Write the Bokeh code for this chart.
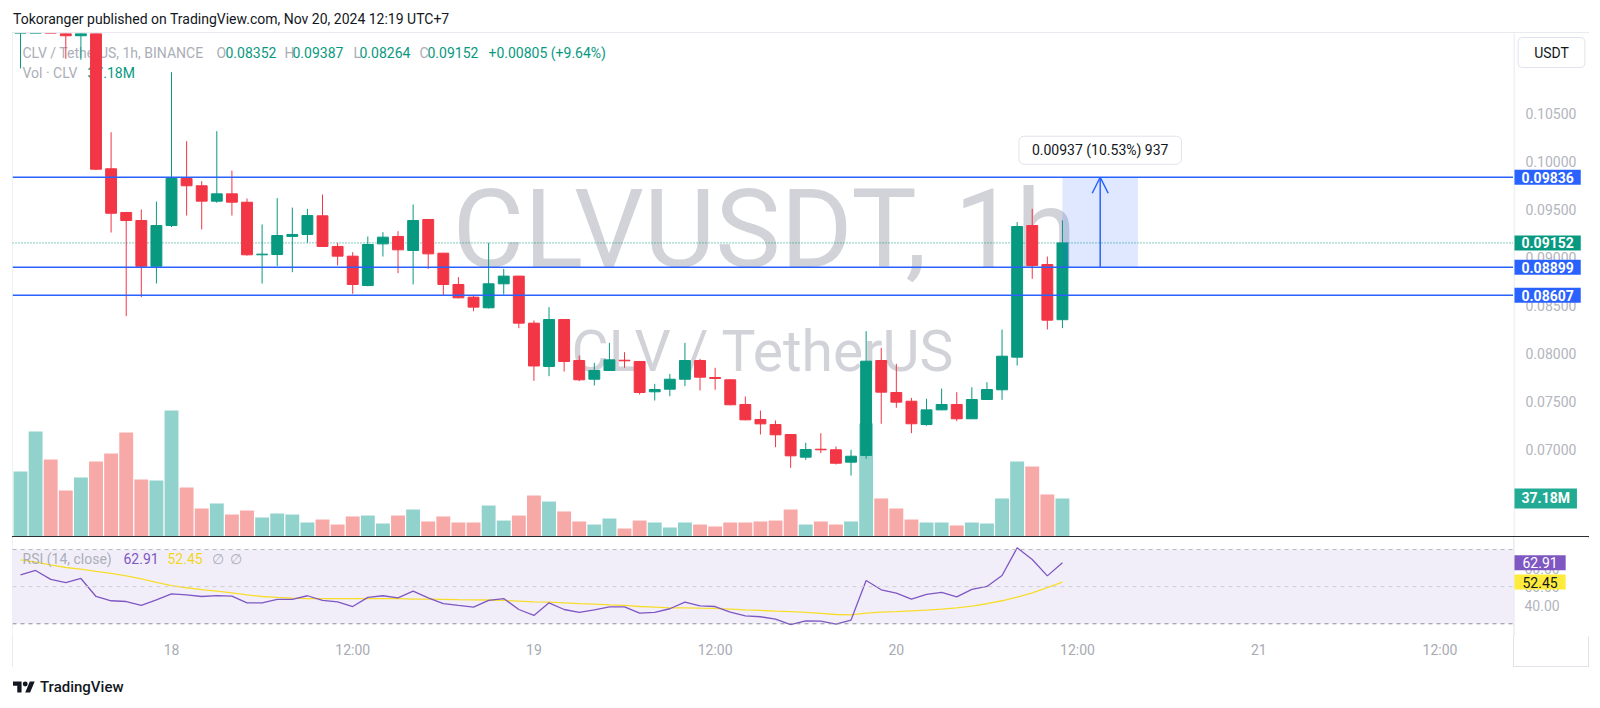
import numpy as np
from bokeh.plotting import figure
from bokeh.models import (ColumnDataSource, Range1d, FixedTicker,
                          Label, Span, BoxAnnotation, Arrow, OpenHead, Div, Spacer)
from bokeh.layouts import column, row
from bokeh.core.properties import value
from bokeh.embed import file_html
from bokeh.resources import INLINE

# ---------------- data (hour offsets from Nov 18 00:00, 1h candles) ----------------
hours = list(range(-10, 60))
opens = [0.1135, 0.1160, 0.1210, 0.1165, 0.1131, 0.1160, 0.09924, 0.09469, 0.09385, 0.08909,
         0.09333, 0.09823, 0.09747, 0.09587, 0.09663, 0.09576, 0.09028, 0.09031, 0.09220, 0.09240,
         0.09434, 0.09115, 0.09014, 0.08708, 0.09142, 0.09219, 0.09073, 0.09396, 0.09045, 0.08719,
         0.08587, 0.08476, 0.08726, 0.08806, 0.08316, 0.07865, 0.08354, 0.07927, 0.07732, 0.07823,
         0.07930, 0.07917, 0.07601, 0.07628, 0.07732, 0.07927, 0.07750, 0.07726, 0.07469, 0.07313,
         0.07260, 0.07156, 0.06920, 0.07003, 0.06997, 0.06868, 0.06938, 0.07927, 0.07594, 0.07503,
         0.07260, 0.07413, 0.07469, 0.07320, 0.07521, 0.07622, 0.07962, 0.09333, 0.08927, 0.08352]
highs = [0.1180, 0.1230, 0.1225, 0.1190, 0.1175, 0.1178, 0.10305, 0.09475, 0.09500, 0.09583,
         0.10930, 0.10212, 0.09795, 0.10316, 0.09906, 0.09615, 0.09344, 0.09618, 0.09520, 0.09507,
         0.09656, 0.09153, 0.09056, 0.09219, 0.09264, 0.09274, 0.09552, 0.09400, 0.09048, 0.08795,
         0.08604, 0.09153, 0.08882, 0.08810, 0.08344, 0.08483, 0.08358, 0.07979, 0.07903, 0.08111,
         0.08014, 0.07920, 0.07684, 0.07788, 0.08111, 0.07944, 0.07851, 0.07730, 0.07552, 0.07406,
         0.07302, 0.07160, 0.07070, 0.07170, 0.07031, 0.06997, 0.08233, 0.08059, 0.07892, 0.07538,
         0.07528, 0.07635, 0.07597, 0.07649, 0.07701, 0.08250, 0.09368, 0.09507, 0.09010, 0.09387]
lows = [0.1097, 0.1140, 0.1150, 0.1107, 0.1106, 0.0991, 0.09260, 0.08389, 0.08587, 0.08729,
        0.09316, 0.09437, 0.09292, 0.09570, 0.09437, 0.09020, 0.08729, 0.08910, 0.08847, 0.09153,
        0.09110, 0.08917, 0.08622, 0.08700, 0.09010, 0.08837, 0.08719, 0.08882, 0.08604, 0.08575,
        0.08441, 0.08470, 0.08615, 0.08264, 0.07715, 0.07764, 0.07812, 0.07712, 0.07667, 0.07820,
        0.07851, 0.07573, 0.07510, 0.07555, 0.07660, 0.07615, 0.07622, 0.07460, 0.07305, 0.07156,
        0.07024, 0.06809, 0.06893, 0.06962, 0.06844, 0.06729, 0.06903, 0.07268, 0.07434, 0.07170,
        0.07247, 0.07410, 0.07295, 0.07318, 0.07520, 0.07517, 0.07875, 0.08778, 0.08250, 0.08264]
closes = [0.1160, 0.1210, 0.1165, 0.1131, 0.1160, 0.0992, 0.09461, 0.09385, 0.08909, 0.09333,
          0.09823, 0.09747, 0.09587, 0.09663, 0.09576, 0.09028, 0.09035, 0.09229, 0.09240, 0.09437,
          0.09115, 0.09014, 0.08719, 0.09135, 0.09212, 0.09080, 0.09385, 0.09038, 0.08719, 0.08580,
          0.08483, 0.08726, 0.08806, 0.08316, 0.07870, 0.08354, 0.07917, 0.07726, 0.07823, 0.07934,
          0.07924, 0.07594, 0.07625, 0.07732, 0.07927, 0.07753, 0.07740, 0.07466, 0.07309, 0.07267,
          0.07153, 0.06934, 0.07000, 0.06997, 0.06857, 0.06930, 0.07920, 0.07597, 0.07493, 0.07268,
          0.07413, 0.07469, 0.07320, 0.07521, 0.07625, 0.07972, 0.09323, 0.08917, 0.08347, 0.09152]
volumes_m = [63.6, 102.7, 75.3, 45.0, 57.7, 73.4, 81.2, 101.7, 55.7, 54.8,
             123.2, 47.9, 27.4, 32.3, 21.5, 25.4, 18.6, 22.5, 21.5, 13.7,
             16.6, 11.7, 19.6, 20.5, 12.7, 20.5, 26.4, 14.7, 19.6, 13.7,
             13.7, 30.3, 15.6, 20.5, 40.1, 34.2, 24.5, 14.7, 11.7, 17.6,
             7.8, 15.6, 13.7, 8.8, 13.7, 11.7, 9.8, 13.7, 13.7, 14.7,
             15.6, 26.4, 11.7, 14.7, 11.7, 14.7, 110.5, 37.2, 27.4, 16.6,
             13.7, 13.7, 10.8, 13.7, 12.7, 37.2, 73.4, 68.5, 41.1, 37.18]
rsi = [56.4, 58.7, 53.9, 52.2, 54.4, 44.7, 42.4, 42.0, 39.9, 42.9,
       46.1, 45.6, 44.7, 45.2, 44.9, 41.3, 41.3, 43.1, 43.1, 45.1,
       42.6, 41.8, 39.3, 44.2, 45.1, 44.0, 47.6, 44.0, 40.9, 39.9,
       39.0, 42.6, 43.6, 37.7, 34.5, 41.3, 37.7, 36.1, 37.5, 39.1,
       39.1, 35.7, 36.1, 38.1, 41.7, 39.7, 39.3, 36.3, 34.3, 33.8,
       32.5, 29.6, 31.6, 31.4, 29.8, 32.0, 53.3, 48.3, 46.5, 43.3,
       45.8, 46.9, 44.5, 48.5, 50.1, 56.0, 70.9, 64.6, 55.8, 62.91]
rsi_ma = [64.4, 63.2, 61.7, 60.3, 59.4, 58.2, 57.1, 55.8, 54.2, 52.3,
          50.6, 49.4, 48.4, 47.6, 46.7, 45.6, 44.7, 44.2, 43.8, 43.6,
          43.6, 43.6, 43.5, 43.5, 43.5, 43.5, 43.3, 43.3, 43.2, 43.0,
          42.9, 42.8, 42.6, 42.2, 41.8, 41.7, 41.3, 40.9, 40.6, 40.2,
          39.9, 39.3, 39.0, 38.6, 38.6, 38.4, 38.3, 37.9, 37.5, 37.2,
          36.8, 36.5, 36.1, 35.6, 35.0, 34.8, 35.7, 36.3, 36.6, 37.0,
          37.4, 37.9, 38.6, 39.5, 40.8, 42.4, 44.3, 46.7, 49.5, 52.45]
price_ticks = [0.070, 0.075, 0.080, 0.085, 0.090, 0.095, 0.100, 0.105]
time_ticks = [0, 12, 24, 36, 48, 60, 72, 84]
time_labels = ["18", "12:00", "19", "12:00", "20", "12:00", "21", "12:00"]
levels = [0.09836, 0.08899, 0.08607]
rsi_ticks = [40, 50, 60]
rsi_bands = [70, 50, 30]
measure_bars = [59, 64]
measure_prices = [0.08899, 0.09836]

# ---------------- styling ----------------
FONT = "Roboto"
GREEN, RED = "#089981", "#F23645"
BLUE = "#2962FF"
GRAYTXT = "#ABAEB7"
AXTXT = "#B2B5BE"
BORDER = "#E0E3EB"
W = 1501      # plot pane width
WS = 76       # price scale width
HB, HB_AXIS = 130, 31   # RSI figure height and its time-axis strip

up = [c >= o for o, c in zip(opens, closes)]
src = ColumnDataSource(dict(
    x=hours, o=opens, h=highs, l=lows, c=closes,
    top=[max(a, b) for a, b in zip(opens, closes)],
    bot=[min(a, b) for a, b in zip(opens, closes)],
    color=[GREEN if u else RED for u in up],
    vcolor=["#92D2CC" if u else "#F7A9A7" for u in up],
    vol=volumes_m))

xr = Range1d(-10.53, 88.87)
yrA = Range1d(0.060938, 0.113333)
vr = Range1d(0, 492)
yrB = Range1d(23.16, 75.92)


def base_fig(width, height, x_range, y_range, **kw):
    opts = dict(width=width, height=height, x_range=x_range, y_range=y_range,
                output_backend="svg", toolbar_location=None, x_axis_location=None,
                y_axis_location=None, min_border_left=0, min_border_right=0,
                min_border_top=1, min_border_bottom=0, outline_line_color=None,
                background_fill_color="white", border_fill_color="white")
    opts.update(kw)
    p = figure(**opts)
    p.grid.visible = False
    return p


def lab(p, x, y, text, color, size="14px", **kw):
    opts = dict(x_units="screen", y_units="screen", text_baseline="middle",
                text_font=FONT, text_font_size=size)
    opts.update(kw)
    p.add_layout(Label(x=x, y=y, text=text, text_color=color, **opts))


def scale_box(p, y, text, bg, fg="white", y_range_name="default", bold=True, px=7, x=1):
    p.add_layout(Label(x=x, y=y, y_range_name=y_range_name, text=text,
                       text_align="left", text_baseline="middle", text_font=FONT,
                       text_font_size="14px", text_font_style="bold" if bold else "normal",
                       text_color=fg, background_fill_color=bg, padding=(px, 2)))


# ---------------- main pane ----------------
pA = base_fig(W, 504, xr, yrA)
pA.extra_y_ranges = {"vol": vr}

# watermark
lab(pA, 440, 307, "CLVUSDT, 1h", "#D1D3D9", size="110px", text_align="left",
    level="underlay")
lab(pA, W / 2, 185, "CLV / TetherUS", "#D1D3D9", size="57px", text_align="center",
    level="underlay")

# legend
o, h, l, c = opens[-1], highs[-1], lows[-1], closes[-1]
chg = c - closes[-2]
pct = chg / closes[-2] * 100
lab(pA, 10, 484, "CLV / TetherUS, 1h, BINANCE", GRAYTXT, level="underlay")
for xl, xv, letter, val in [(204, 213, "O", o), (272, 280, "H", h), (341, 347, "L", l), (407, 415, "C", c)]:
    lab(pA, xl, 484, letter, GRAYTXT, level="underlay")
    lab(pA, xv, 484, f"{val:.5f}", GREEN, level="underlay")
lab(pA, 476, 484, f"{chg:+.5f} ({pct:+.2f}%)", GREEN, level="underlay")
lab(pA, 10, 464, "Vol · CLV", GRAYTXT, level="underlay")
lab(pA, 75, 464, f"{volumes_m[-1]:.2f}M", GREEN, level="underlay")

# current price dotted line
pA.add_layout(Span(location=closes[-1], dimension="width", line_color=GREEN,
                   line_dash="1 2", line_width=1, level="underlay"))

# volume
pA.vbar(x="x", width=0.92, top="vol", bottom=0, y_range_name="vol", source=src,
        fill_color="vcolor", line_color=None)
# candles
pA.segment(x0="x", y0="l", x1="x", y1="h", source=src, line_color="color", line_width=1)
pA.vbar(x="x", width=0.72, top="top", bottom="bot", source=src,
        fill_color="color", line_color="color", line_width=1)

# horizontal levels
for lv in levels:
    pA.add_layout(Span(location=lv, dimension="width", line_color=BLUE, line_width=1.6))

# measure tool
pA.add_layout(BoxAnnotation(left=measure_bars[0], right=measure_bars[1],
                            bottom=measure_prices[0], top=measure_prices[1],
                            fill_color=BLUE, fill_alpha=0.15, line_color=None))
mx = (measure_bars[0] + measure_bars[1]) / 2
pA.add_layout(Arrow(end=OpenHead(size=16, line_color=BLUE, line_width=1.5),
                    x_start=mx, y_start=measure_prices[0], x_end=mx, y_end=measure_prices[1],
                    line_color=BLUE, line_width=1.5))
diff = measure_prices[1] - measure_prices[0]
mtext = f"{diff:.5f} ({diff / measure_prices[0] * 100:.2f}%) {round(diff / 0.00001)}"
pA.add_layout(Label(x=mx, y=measure_prices[1], y_offset=27, text=mtext, text_align="center",
                    text_baseline="middle", text_font=FONT, text_font_size="14px",
                    text_color="#131722", background_fill_color="white",
                    border_line_color=BORDER, padding=(13, 6), border_radius=5))

# ---------------- main price scale ----------------
pR = base_fig(WS, 504, Range1d(0, WS), yrA)
pR.extra_y_ranges = {"vol": vr}
pR.add_layout(Span(location=0.5, dimension="height", line_color=BORDER, line_width=1))
pR.text(x=[0] * len(price_ticks), y=price_ticks, text=[f"{t:.5f}" for t in price_ticks],
        x_offset=12, text_align="left", text_baseline="middle", text_color=AXTXT,
        text_font=value(FONT), text_font_size=value("14px"))
for lv in levels:
    scale_box(pR, lv, f"{lv:.5f}", BLUE)
scale_box(pR, closes[-1], f"{closes[-1]:.5f}", GREEN)
scale_box(pR, volumes_m[-1], f"{volumes_m[-1]:.2f}M", "#22AB94", y_range_name="vol")
pR.add_layout(Label(x=WS / 2, y=484, y_units="screen", text="USDT",
                    text_align="center", text_baseline="middle", text_font=FONT,
                    text_font_size="14px", text_color="#131722", background_fill_color="white",
                    border_line_color=BORDER, padding=(16, 7), border_radius=4))

# ---------------- RSI pane ----------------
pB = base_fig(W, HB, xr, yrB, x_axis_location="below", min_border_bottom=HB_AXIS)
pB.add_layout(BoxAnnotation(bottom=rsi_bands[2], top=rsi_bands[0], fill_color="#7E57C2",
                            fill_alpha=0.1, line_color=None, level="underlay"))
for lv, col in zip(rsi_bands, ["#B8BAC1", "#CDCED3", "#8B8E96"]):
    pB.add_layout(Span(location=lv, dimension="width", line_color=col, line_dash="4 4",
                       line_width=1))
pB.line(hours, rsi_ma, line_color="#F7DD2B", line_width=1.3)
pB.line(hours, rsi, line_color="#7E57C2", line_width=1.3)

xb = pB.xaxis[0]
xb.ticker = FixedTicker(ticks=time_ticks)
xb.major_label_overrides = {t: s for t, s in zip(time_ticks, time_labels)}
xb.major_label_text_font = FONT
xb.major_label_text_font_size = "14px"
xb.major_label_text_color = "#A8ABB3"
xb.major_tick_line_color = None
xb.minor_tick_line_color = None
xb.major_tick_out = 0
xb.minor_tick_out = 0
xb.axis_line_color = None
xb.major_label_standoff = 5

lab(pB, 10, 78, "RSI (14, close)", GRAYTXT)
lab(pB, 111, 78, f"{rsi[-1]:.2f}", "#7E57C2")
lab(pB, 155, 78, f"{rsi_ma[-1]:.2f}", "#F2D61E")
lab(pB, 199, 78, "∅", GRAYTXT)
lab(pB, 217, 78, "∅", GRAYTXT)

# ---------------- RSI scale ----------------
pRB = base_fig(WS, HB, Range1d(0, WS), yrB, min_border_bottom=HB_AXIS,
               border_fill_alpha=0,
               styles={"box-shadow": "inset 1px 0 0 0 #E0E3EB"})
pRB.add_layout(Span(location=0.5, dimension="height", line_color=BORDER, line_width=1))
pRB.text(x=[0] * len(rsi_ticks), y=rsi_ticks, text=[f"{t:.2f}" for t in rsi_ticks],
         x_offset=11, text_align="left", text_baseline="middle", text_color=AXTXT,
         text_font=value(FONT), text_font_size=value("14px"))
scale_box(pRB, rsi[-1], f"{rsi[-1]:.2f}", "#7E57C2", bold=False, px=8)
scale_box(pRB, rsi_ma[-1], f"{rsi_ma[-1]:.2f}", "#FFEB3B", fg="#131722", bold=False, px=8)

# ---------------- page ----------------
header = Div(text='<div style="padding-left:5px;font-family:Roboto;font-size:14px;'
                  'line-height:22px;color:#131722;white-space:nowrap">'
                  'Tokoranger published on TradingView.com, Nov 20, 2024 12:19 UTC+7</div>',
             width=1584, height=24, margin=0)
sep = Spacer(width=W + WS, height=1, margin=0, styles={"background-color": "#2A2E39"})
charts = column(row(pA, pR, spacing=0), sep, row(pB, pRB, spacing=0),
                margin=(0, 0, 0, 4), spacing=0,
                styles={"outline": "1px solid #E0E3EB", "outline-offset": "-1px"})
logo = Div(text='<div style="padding-left:5px;padding-top:12px;display:flex;align-items:center;'
                'font-family:Roboto;font-weight:500;font-size:15px;line-height:16px;color:#131722">'
                '<svg width="22" height="12" viewBox="0 4 36 18" style="margin-right:5px">'
                '<path d="M14 22H7V11H0V4h14v18zM28 22h-8l7.5-18h8L28 22z" fill="#131722"/>'
                '<circle cx="20" cy="8" r="4" fill="#131722"/></svg>TradingView</div>',
           width=300, height=30, margin=0)
page = column(header, charts, logo, spacing=0, margin=(8, 0, 0, 8))

open("out.html", "w").write(file_html(page, INLINE))
